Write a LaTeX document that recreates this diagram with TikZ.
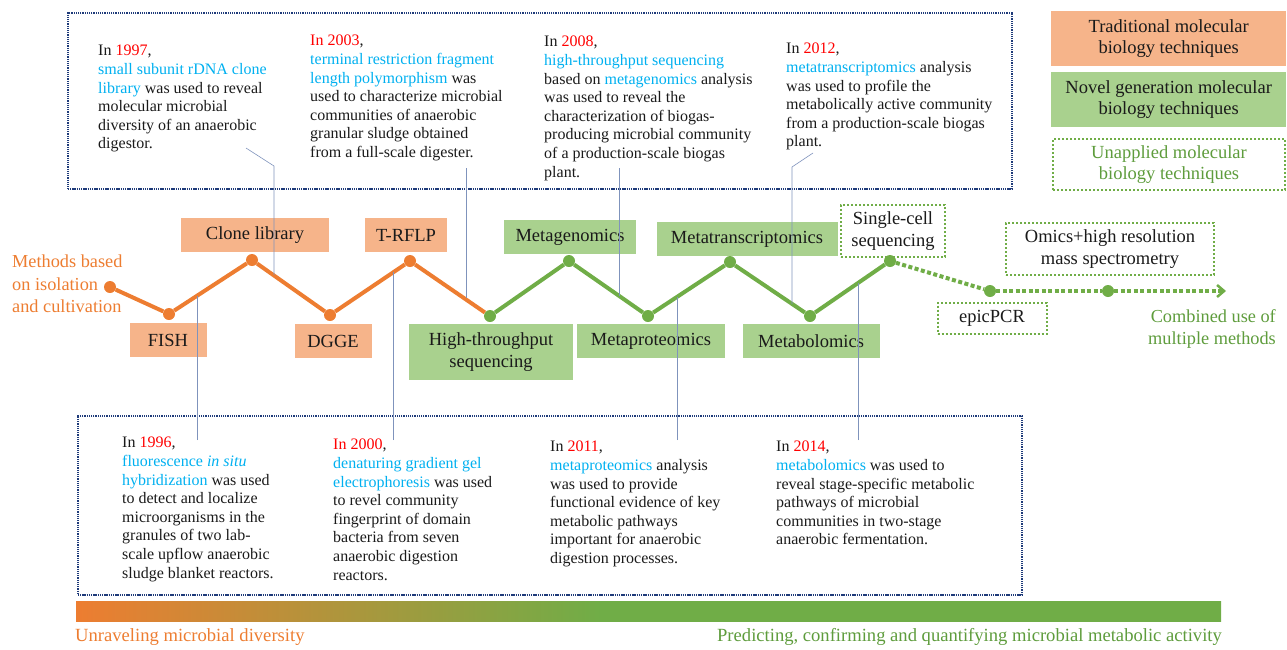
\documentclass[tikz,border=0pt]{standalone}
\usepackage{fontspec}
\setmainfont{Liberation Serif}
\usetikzlibrary{arrows.meta}
\definecolor{oline}{HTML}{ED7D31}
\definecolor{ofill}{HTML}{F6B48A}
\definecolor{gline}{HTML}{70AD47}
\definecolor{gfill}{HTML}{A9D18E}
\definecolor{gtext}{HTML}{5E9C3C}
\definecolor{navy}{HTML}{1F3B7A}
\definecolor{leadc}{HTML}{7F93BC}
\definecolor{bluet}{HTML}{00B0F0}
\definecolor{redt}{HTML}{FF0000}
\definecolor{bodyt}{HTML}{1A1A1A}
\pgfdeclarehorizontalshading{barshade}{100bp}{color(0bp)=(oline); color(25bp)=(oline); color(47.9bp)=(gline); color(100bp)=(gline)}
\newcommand\yrtxt[1]{\textcolor{redt}{#1}}
\newcommand\bluetxt[1]{\textcolor{bluet}{#1}}
\begin{document}
\begin{tikzpicture}[x=1pt,y=-1pt,
  frame/.style={draw=navy,line width=1.6pt,dash pattern=on 1.3pt off 0.9pt,minimum width=#1,anchor=north west,inner sep=0},
  obox/.style={fill=ofill,inner sep=0,minimum height=34,font=\fontsize{18.5}{22}\selectfont,text=bodyt},
  gbox/.style={fill=gfill,inner sep=0,minimum height=34,font=\fontsize{18.5}{22}\selectfont,text=bodyt,align=center},
  ubox/.style={draw=gline,line width=2pt,dash pattern=on 2pt off 2pt,fill=white,inner sep=0,font=\fontsize{18.5}{22}\selectfont,text=bodyt,align=center},
  odot/.style={circle,fill=oline,inner sep=0,minimum size=12},
  gdot/.style={circle,fill=gline,inner sep=0,minimum size=12},
  oseg/.style={draw=oline,line width=4pt},
  gseg/.style={draw=gline,line width=4pt},
  useg/.style={draw=gline,line width=4pt,dash pattern=on 4pt off 2.5pt},
  leader/.style={draw=leadc,line width=0.6pt},
  callout/.style={anchor=north west,inner sep=0,align=left,text=bodyt,font=\fontsize{16}{18.6}\selectfont},
  legend/.style={inner sep=0,minimum width=235,minimum height=55,align=center,font=\fontsize{18.5}{21}\selectfont,anchor=north west}
]
\useasboundingbox (0,0) rectangle (1287,649);

% frames
\node[frame=944,minimum height=176] (topframe) at (67,12) {};
\node[frame=944,minimum height=179] (botframe) at (77,415) {};

% legend
\node[legend,fill=ofill,text=bodyt] (lg1) at (1051,11) {Traditional molecular\\biology techniques};
\node[legend,fill=gfill,text=bodyt] (lg2) at (1051,72) {Novel generation molecular\\biology techniques};
\node[legend,draw=gline,line width=2pt,dash pattern=on 2pt off 2pt,minimum width=232,minimum height=51,text=gtext] (lg3) at (1052,138) {Unapplied molecular\\biology techniques};

% method boxes
\node[obox,minimum width=148] (clone) at (255,235) {Clone library};
\node[obox,minimum width=77] (fish) at (168,340) {FISH};
\node[obox,minimum width=77] (dgge) at (333,341) {DGGE};
\node[obox,minimum width=82] (trflp) at (406,235) {T-RFLP};
\node[gbox,minimum width=164,minimum height=56] (hts) at (491,352) {High-throughput\\sequencing};
\node[gbox,minimum width=132] (mgen) at (570,237) {Metagenomics};
\node[gbox,minimum width=148] (mprot) at (651,341) {Metaproteomics};
\node[gbox,minimum width=181] (mtrans) at (747,239) {Metatranscriptomics};
\node[gbox,minimum width=137] (mbol) at (811,341) {Metabolomics};
\node[ubox,minimum width=104,minimum height=52] (scs) at (893,231) {Single-cell\\sequencing};
\node[ubox,minimum width=109,minimum height=31] (epic) at (992,318) {epicPCR};
\node[ubox,minimum width=208,minimum height=52] (omics) at (1110,249) {Omics+high resolution\\mass spectrometry};

% zigzag dots
\node[odot] (p0) at (110,287) {};
\node[odot] (p1) at (169,314) {};
\node[odot] (p2) at (252,260) {};
\node[odot] (p3) at (330,315) {};
\node[odot] (p4) at (410,261) {};
\node[gdot] (p5) at (490,316) {};
\node[gdot] (p6) at (569,261) {};
\node[gdot] (p7) at (648,316) {};
\node[gdot] (p8) at (730,262) {};
\node[gdot] (p9) at (810,316) {};
\node[gdot] (p10) at (890,261) {};
\node[gdot] (p11) at (990,291) {};
\node[gdot] (p12) at (1108,291) {};
\coordinate (pend) at (1226,291);

\draw[oseg] (p0) -- (p1);
\draw[oseg] (p1) -- (p2);
\draw[oseg] (p2) -- (p3);
\draw[oseg] (p3) -- (p4);
\draw[oseg] (p4) -- (p5);
\draw[gseg] (p5) -- (p6);
\draw[gseg] (p6) -- (p7);
\draw[gseg] (p7) -- (p8);
\draw[gseg] (p8) -- (p9);
\draw[gseg] (p9) -- (p10);
\draw[useg] (p10) -- (p11);
\draw[useg] (p11) -- (p12);
\draw[useg,-{Straight Barb[length=7pt,width=12pt,line width=2.5pt]}] (p12) -- (pend);

% side texts
\node[anchor=west,inner sep=0,align=left,text=oline,font=\fontsize{18.3}{22.5}\selectfont] (iso) at (12,284) {Methods based\\on isolation\\and cultivation};
\node[anchor=east,inner sep=0,align=right,text=gtext,font=\fontsize{18.3}{22}\selectfont] (comb) at (1276,329) {Combined use of\\multiple methods};

% callouts top
\node[callout] (c97) at (98,45) {In \yrtxt{1997},\\\bluetxt{small subunit rDNA clone}\\\bluetxt{library} was used to reveal\\molecular microbial\\diversity of an anaerobic\\digestor.};
\node[callout] (c03) at (310,35) {\yrtxt{In 2003},\\\bluetxt{terminal restriction fragment}\\\bluetxt{length polymorphism} was\\used to characterize microbial\\communities of anaerobic\\granular sludge obtained\\from a full-scale digester.};
\node[callout] (c08) at (544,36) {In \yrtxt{2008},\\\bluetxt{high-throughput sequencing}\\based on \bluetxt{metagenomics} analysis\\was used to reveal the\\characterization of biogas-\\producing microbial community\\of a production-scale biogas\\plant.};
\node[callout] (c12) at (786,43) {In \yrtxt{2012},\\\bluetxt{metatranscriptomics} analysis\\was used to profile the\\metabolically active community\\from a production-scale biogas\\plant.};

% callouts bottom
\node[callout] (c96) at (122,437) {In \yrtxt{1996},\\\bluetxt{fluorescence \textit{in situ}}\\\bluetxt{hybridization} was used\\to detect and localize\\microorganisms in the\\granules of two lab-\\scale upflow anaerobic\\sludge blanket reactors.};
\node[callout] (c00) at (333,439) {\yrtxt{In 2000},\\\bluetxt{denaturing gradient gel}\\\bluetxt{electrophoresis} was used\\to revel community\\fingerprint of domain\\bacteria from seven\\anaerobic digestion\\reactors.};
\node[callout] (c11) at (550,441) {In \yrtxt{2011},\\\bluetxt{metaproteomics} analysis\\was used to provide\\functional evidence of key\\metabolic pathways\\important for anaerobic\\digestion processes.};
\node[callout] (c14) at (776,441) {In \yrtxt{2014},\\\bluetxt{metabolomics} was used to\\reveal stage-specific metabolic\\pathways of microbial\\communities in two-stage\\anaerobic fermentation.};

% leaders
\coordinate (a97) at (246,148); \coordinate (b97) at (274,166); \coordinate (e97) at (274,275);
\coordinate (a03) at (466,168); \coordinate (e03) at (466,298);
\coordinate (a08) at (619,168); \coordinate (e08) at (619,296);
\coordinate (a12) at (813,153); \coordinate (b12) at (792,167); \coordinate (e12) at (792,304);
\coordinate (a96) at (197,440); \coordinate (e96) at (197,296);
\coordinate (a00) at (393,440); \coordinate (e00) at (393,272);
\coordinate (a11) at (677,440); \coordinate (e11) at (677,297);
\coordinate (a14) at (858,440); \coordinate (e14) at (858,283);
\draw[leader] (a97) -- (b97) -- (e97);
\draw[leader] (a03) -- (e03);
\draw[leader] (a08) -- (e08);
\draw[leader] (a12) -- (b12) -- (e12);
\draw[leader] (a96) -- (e96);
\draw[leader] (a00) -- (e00);
\draw[leader] (a11) -- (e11);
\draw[leader] (a14) -- (e14);

% gradient bar
\shade[shading=barshade] (76,601) rectangle (1221,621);
\node[anchor=west,inner sep=0,text=oline,font=\fontsize{18.6}{22}\selectfont] (unr) at (75,637) {Unraveling microbial diversity};
\node[anchor=east,inner sep=0,text=gtext,font=\fontsize{18.6}{22}\selectfont] (pred) at (1222,637) {Predicting, confirming and quantifying microbial metabolic activity};
\end{tikzpicture}
\end{document}
